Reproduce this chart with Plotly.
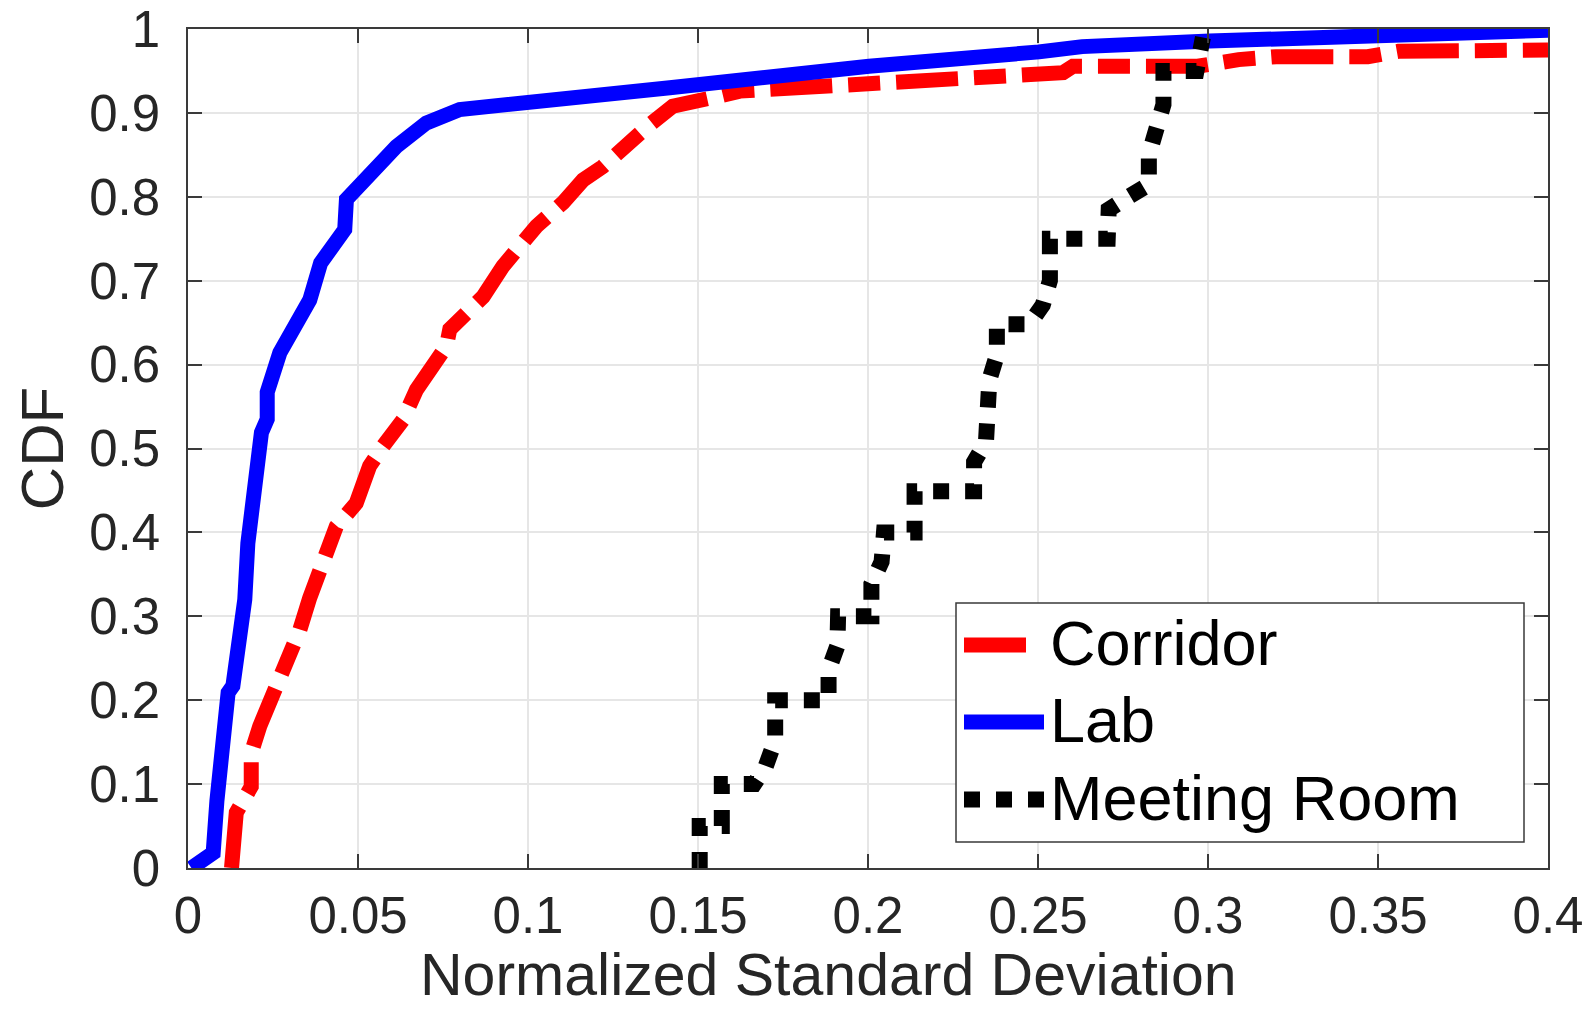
import plotly.graph_objects as go

# ---------------- data ----------------
corridor_x = [0.0128, 0.0142, 0.0186, 0.0186, 0.0211, 0.026, 0.0294, 0.0329, 0.0358, 0.0397,
              0.0436, 0.0495, 0.0534, 0.0574, 0.0632, 0.0672, 0.0711, 0.076, 0.077, 0.0809,
              0.0868, 0.0926, 0.0985, 0.1025, 0.1103, 0.1162, 0.122, 0.1299, 0.1358, 0.1426,
              0.1495, 0.154, 0.1623, 0.177, 0.1887, 0.2015, 0.2113, 0.221, 0.2426, 0.2574,
              0.2603, 0.297, 0.309, 0.32, 0.347, 0.356, 0.4]
corridor_y = [0.0, 0.066, 0.097, 0.137, 0.169, 0.213, 0.252, 0.284, 0.322, 0.371,
              0.407, 0.435, 0.479, 0.503, 0.534, 0.570, 0.594, 0.622, 0.642, 0.658,
              0.681, 0.717, 0.749, 0.765, 0.793, 0.820, 0.836, 0.868, 0.886, 0.908,
              0.916, 0.918, 0.926, 0.930, 0.932, 0.934, 0.936, 0.942, 0.946, 0.948,
              0.9556, 0.9556, 0.9635, 0.967, 0.967, 0.9734, 0.975]

lab_x = [0.001, 0.0074, 0.0085, 0.0103, 0.0118, 0.0132, 0.0152, 0.0167, 0.0176, 0.0201,
         0.0216, 0.0233, 0.0233, 0.027, 0.0358, 0.039, 0.0461, 0.0466, 0.0554, 0.0613,
         0.0701, 0.0799, 0.1417, 0.2003, 0.2503, 0.263, 0.3005, 0.3505, 0.4]
lab_y = [0.0, 0.018, 0.08, 0.145, 0.209, 0.217, 0.28, 0.32, 0.387, 0.475,
         0.519, 0.535, 0.567, 0.614, 0.677, 0.721, 0.761, 0.797, 0.832, 0.86,
         0.888, 0.904, 0.93, 0.9556, 0.9727, 0.979, 0.9856, 0.9935, 0.9984]

meeting_x = [0.1505, 0.1505, 0.157, 0.157, 0.1665, 0.1699, 0.1727, 0.1727, 0.1884, 0.1884,
             0.191, 0.1912, 0.201, 0.201, 0.204, 0.2047, 0.2137, 0.2137, 0.2312, 0.2312,
             0.2347, 0.235, 0.2357, 0.2379, 0.2379, 0.2474, 0.2514, 0.2535, 0.2535, 0.2705,
             0.2708, 0.2766, 0.2826, 0.2826, 0.2849, 0.2869, 0.2869, 0.2966, 0.2985]
meeting_y = [0.0, 0.05, 0.05, 0.10, 0.10, 0.121, 0.152, 0.20, 0.20, 0.236,
             0.265, 0.30, 0.30, 0.3385, 0.365, 0.40, 0.40, 0.449, 0.449, 0.484,
             0.508, 0.545, 0.582, 0.611, 0.648, 0.648, 0.671, 0.70, 0.75, 0.75,
             0.785, 0.80, 0.8145, 0.85, 0.876, 0.91, 0.95, 0.95, 0.99]

series_names = ["Corridor", "Lab", "Meeting Room"]
x_tick_vals = [0, 0.05, 0.1, 0.15, 0.2, 0.25, 0.3, 0.35, 0.4]
x_tick_text = ["0", "0.05", "0.1", "0.15", "0.2", "0.25", "0.3", "0.35", "0.4"]
y_tick_vals = [0, 0.1, 0.2, 0.3, 0.4, 0.5, 0.6, 0.7, 0.8, 0.9, 1]
y_tick_text = ["0", "0.1", "0.2", "0.3", "0.4", "0.5", "0.6", "0.7", "0.8", "0.9", "1"]
x_title = "Normalized Standard Deviation"
y_title = "CDF"

# ---------------- styling ----------------
W, H = 1588, 1012
L, R, T, B = 188, 40, 29, 144
FONT = "Liberation Sans, Arial, Helvetica, sans-serif"
AX = "#3a3a3a"
TXT = "#262626"

red_dash = "62px,16px,32px,16px"
black_dot = "16px,16px"

styles = [
    dict(color="#ff0000", width=15, dash=red_dash),
    dict(color="#0000ff", width=15, dash="solid"),
    dict(color="#000000", width=16, dash=black_dot),
]

fig = go.Figure()
for name, xs, ys, st in zip(series_names,
                            [corridor_x, lab_x, meeting_x],
                            [corridor_y, lab_y, meeting_y], styles):
    fig.add_trace(go.Scatter(x=xs, y=ys, mode="lines", name=name,
                             line=st, showlegend=False))

pw, ph = W - L - R, H - T - B


def px2x(p):
    return (p - L) / pw


def px2y(p):
    return (H - B - p) / ph


# custom legend (long line samples like the reference)
shapes = [dict(type="rect", xref="paper", yref="paper",
               x0=px2x(956), x1=px2x(1524), y0=px2y(842), y1=px2y(603),
               line=dict(color=AX, width=1.5), fillcolor="white", layer="above")]
rows_y = [645, 722, 799.5]
sample_end = [1028, 1044, 1044]
for st, ry, se in zip(styles, rows_y, sample_end):
    shapes.append(dict(type="line", xref="paper", yref="paper",
                       x0=px2x(964), x1=px2x(se), y0=px2y(ry), y1=px2y(ry),
                       line=dict(color=st["color"], width=st["width"], dash=st["dash"]),
                       layer="above"))

annotations = []
for name, ry in zip(series_names, rows_y):
    annotations.append(dict(text=name, xref="paper", yref="paper",
                            x=px2x(1048), y=px2y(ry - 2), xanchor="left", yanchor="middle",
                            showarrow=False, font=dict(family=FONT, size=63, color="black")))
annotations.append(dict(text=x_title, xref="paper", yref="paper",
                        x=px2x(828), y=px2y(975), xanchor="center", yanchor="middle",
                        showarrow=False, font=dict(family=FONT, size=59, color=TXT)))

axis_common = dict(showline=True, linecolor=AX, linewidth=1.5, mirror="ticks",
                   ticks="inside", ticklen=14, tickwidth=1.5, tickcolor=AX,
                   showgrid=True, gridcolor="#e6e6e6", gridwidth=1.5,
                   zeroline=False, automargin=False,
                   tickfont=dict(family=FONT, size=51, color=TXT))

fig.update_layout(
    width=W, height=H,
    margin=dict(l=L, r=R, t=T, b=B),
    paper_bgcolor="white", plot_bgcolor="white",
    xaxis=dict(range=[0, 0.4], tickvals=x_tick_vals, ticktext=x_tick_text,
               ticklabelstandoff=2, **axis_common),
    yaxis=dict(range=[0, 1], tickvals=y_tick_vals, ticktext=y_tick_text,
               ticklabelstandoff=16,
               title=dict(text=y_title, font=dict(family=FONT, size=60, color=TXT), standoff=6),
               **axis_common),
    shapes=shapes, annotations=annotations,
    showlegend=False,
)

fig.write_html("out.html")
